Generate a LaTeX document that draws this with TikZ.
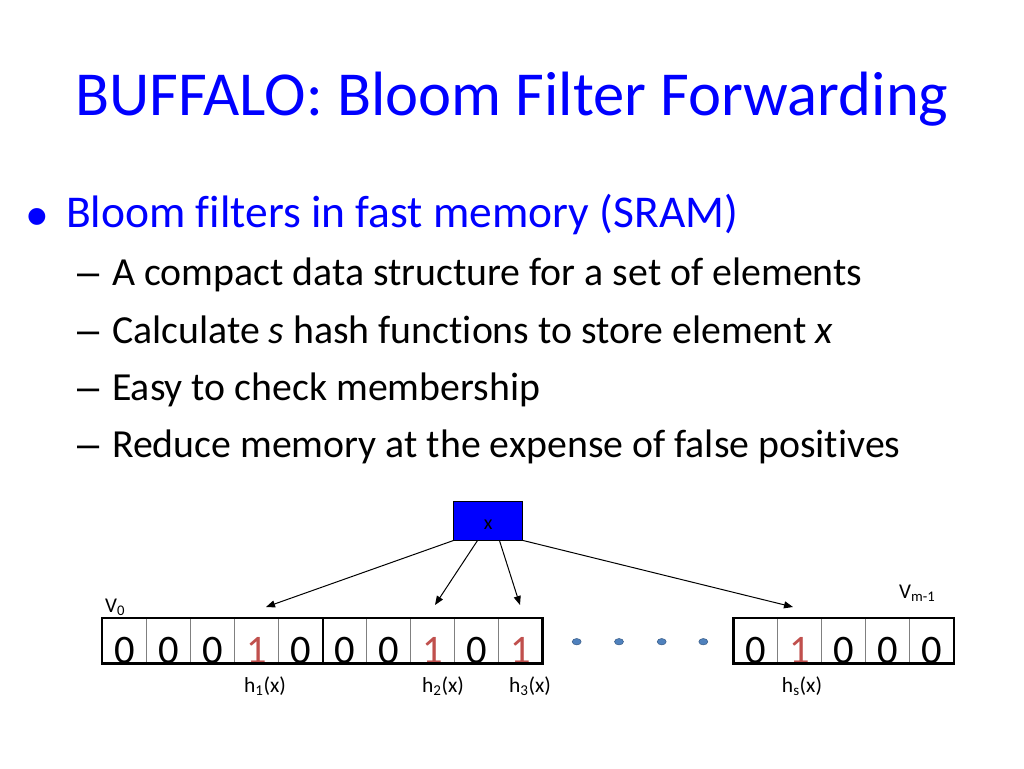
\documentclass[tikz,border=0pt]{standalone}
\usepackage{fontspec}
\setmainfont{Carlito}[Ligatures=CommonOff]
\newfontfamily\bulletfont{Liberation Sans}
\usetikzlibrary{calc,arrows.meta}
\usepackage{xcolor}
\definecolor{titleblue}{RGB}{0,0,255}
\definecolor{bitred}{RGB}{192,80,77}
\definecolor{dotblue}{RGB}{79,129,189}

\begin{document}
\begin{tikzpicture}[x=1pt, y=-1pt,
        every node/.style={inner sep=0pt},
        cell/.style={draw=gray, line width=0.8pt, minimum width=44pt, minimum height=45pt,
            text height=45pt, text depth=0pt, font=\fontsize{40.5}{40.5}\selectfont},
        one/.style={cell, text=bitred},
        xbox/.style={draw=black, line width=1pt, fill=titleblue, minimum width=68.7pt,
            minimum height=39pt, text height=18pt, text depth=0pt, font=\fontsize{20}{20}\selectfont},
        lbl/.style={anchor=base, font=\fontsize{21.5}{21.5}\selectfont},
        subitem/.style={anchor=base west, font=\fontsize{39.8}{39.8}\selectfont},
        subdash/.style={anchor=base west, font=\bulletfont\fontsize{39.8}{39.8}\selectfont},
        hash/.style={line width=1pt, -{Triangle[length=9pt,width=7pt]}}]
    \useasboundingbox (0,0) rectangle (1024,768);

    % Title and bullet text
    \node[anchor=base, text=titleblue, font=\fontsize{62.6}{62.6}\selectfont] (title) at (512,115)
        {BUFFALO: Bloom Filter Forwarding};
    \node[text=titleblue, font=\bulletfont\fontsize{62}{62}\selectfont] (dot0) at (37,223) {•};
    \node[anchor=base west, text=titleblue, font=\fontsize{45.5}{45.5}\selectfont] (b0) at (66,227)
        {Bloom filters in fast memory (SRAM)};
    \node[subdash] (d1) at (77,285.5) {–};
    \node[subitem] (b1) at (112,285.5) {A compact data structure for a set of elements};
    \node[subdash] (d2) at (77,343) {–};
    \node[subitem] (b2) at (112,343) {Calculate \textit{s} hash functions to store element \textit{x}};
    \node[subdash] (d3) at (77,400) {–};
    \node[subitem] (b3) at (112,400) {Easy to check membership};
    \node[subdash] (d4) at (77,457) {–};
    \node[subitem] (b4) at (112,457) {Reduce memory at the expense of false positives};

    % Element x
    \node[xbox] (x) at (488.3,520.5) {x};

    % First bit vector (V_0 side)
    \node[cell] (c1) at (124.3,640.8) {0};
    \node[cell] (c2) at (168.3,640.8) {0};
    \node[cell] (c3) at (212.3,640.8) {0};
    \node[one]  (c4) at (256.3,640.8) {1};
    \node[cell] (c5) at (300.3,640.8) {0};
    \node[cell] (c6) at (344.3,640.8) {0};
    \node[cell] (c7) at (388.3,640.8) {0};
    \node[one]  (c8) at (432.3,640.8) {1};
    \node[cell] (c9) at (476.3,640.8) {0};
    \node[one]  (c10) at (520.3,640.8) {1};
    \draw[line width=2.8pt] (c1.north west) rectangle (c10.south east);
    \draw[line width=2pt] (c5.north east) -- (c5.south east);

    % Last bit vector (V_m-1 side)
    \node[cell] (e1) at (755.5,640.8) {0};
    \node[one]  (e2) at (799.5,640.8) {1};
    \node[cell] (e3) at (843.5,640.8) {0};
    \node[cell] (e4) at (887.5,640.8) {0};
    \node[cell] (e5) at (931.5,640.8) {0};
    \draw[line width=2.8pt] (e1.north west) rectangle (e5.south east);

    % Dots between the vectors
    \filldraw[fill=dotblue, draw=dotblue!70!black, line width=0.5pt] (576.7,641.7) ellipse (4.5 and 3.2);
    \filldraw[fill=dotblue, draw=dotblue!70!black, line width=0.5pt] (619,641.7) ellipse (4.5 and 3.2);
    \filldraw[fill=dotblue, draw=dotblue!70!black, line width=0.5pt] (661.7,641.7) ellipse (4.5 and 3.2);
    \filldraw[fill=dotblue, draw=dotblue!70!black, line width=0.5pt] (703.3,641.7) ellipse (4.5 and 3.2);

    % Arrow tips above the vectors
    \coordinate (t1) at (266,607);
    \coordinate (t2) at (435,605);
    \coordinate (t3) at (520,605);
    \coordinate (ts) at (793,607);

    % Hash arrows from x
    \draw[hash] (x.south west) -- (t1);
    \draw[hash] ($(x.south west)!0.345!(x.south east)$) -- (t2);
    \draw[hash] ($(x.south west)!0.66!(x.south east)$) -- (t3);
    \draw[hash] (x.south east) -- (ts);

    % Labels
    \node[anchor=base west, font=\fontsize{21}{21}\selectfont] (v0) at (105,612) {V\textsubscript{0}};
    \node[anchor=base west, font=\fontsize{21}{21}\selectfont] (vm) at (899,598) {V\textsubscript{m-1}};
    \node[lbl] (h1) at (265,692) {h\textsubscript{1}(x)};
    \node[lbl] (h2) at (443,692) {h\textsubscript{2}(x)};
    \node[lbl] (h3) at (530,692) {h\textsubscript{3}(x)};
    \node[lbl] (hs) at (802,692) {h\textsubscript{s}(x)};
\end{tikzpicture}
\end{document}
